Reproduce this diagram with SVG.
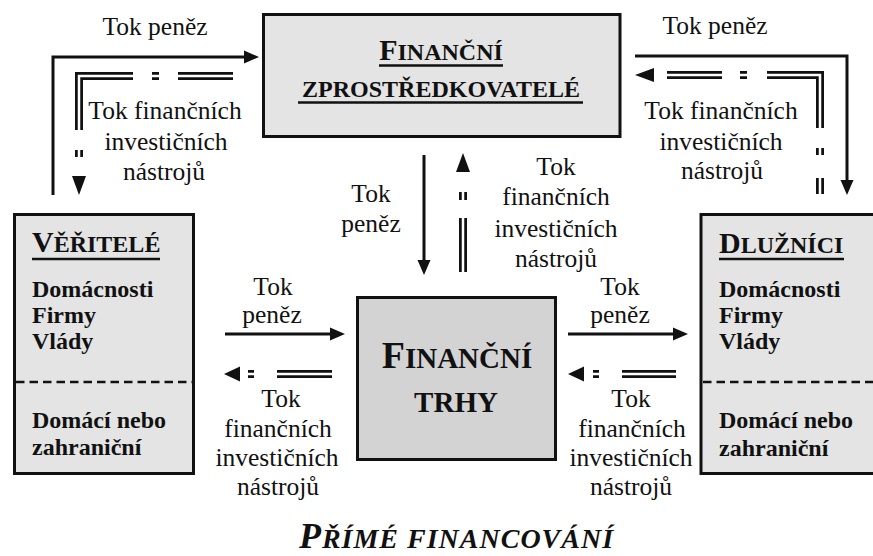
<svg xmlns="http://www.w3.org/2000/svg" xmlns:xlink="http://www.w3.org/1999/xlink" width="873" height="556" viewBox="0 0 873 556">
<style>
text{font-family:"Liberation Serif","Times New Roman",serif;fill:#111}
.lb{font-size:25.5px;text-anchor:middle}
.bx{font-size:24px;font-weight:bold}
.hd{font-weight:bold}
.box{fill:#e4e4e4;stroke:#111;stroke-width:3}
.boxc{fill:#d3d3d3;stroke:#111;stroke-width:3}
.dash{stroke:#111;stroke-width:2.5;stroke-dasharray:8.5 5;fill:none}
.ul{stroke:#111;stroke-width:2.5}
.sl{fill:none;stroke:#111;stroke-width:3}
.dbo{fill:none;stroke:#111;stroke-width:8;stroke-linejoin:miter}
.dbi{fill:none;stroke:#fff;stroke-width:2.5;stroke-linejoin:miter}
.ah{fill:#111}
</style>
<defs>
<path id="tri" d="M0,0 L-15,-6.5 L-15,6.5 Z"/>
<path id="tri2" d="M0,0 L-19,-7 L-19,7 Z"/>
<path id="tri3" d="M0,0 L-16,-7.5 L-16,7.5 Z"/>
</defs>

<g id="node-zprostredkovatele">
<rect class="box" x="263.5" y="14.5" width="356.5" height="122"/>
<text class="hd" x="441" y="60" text-anchor="middle"><tspan font-size="30">F</tspan><tspan font-size="24">INANČNÍ</tspan></text>
<line class="ul" x1="379" y1="65.5" x2="503" y2="65.5"/>
<text class="hd" x="441" y="97" text-anchor="middle" font-size="24">ZPROSTŘEDKOVATELÉ</text>
<line class="ul" x1="298" y1="102.5" x2="583" y2="102.5"/>
</g>

<g id="node-veritele">
<rect class="box" x="14.5" y="214.5" width="179" height="259"/>
<line class="dash" x1="16" y1="382" x2="192" y2="382"/>
<text class="hd" x="32" y="252"><tspan font-size="30">V</tspan><tspan font-size="24">ĚŘITELÉ</tspan></text>
<line class="ul" x1="32" y1="259" x2="160" y2="259"/>
<text class="bx" x="32" y="297">Domácnosti</text>
<text class="bx" x="32" y="323">Firmy</text>
<text class="bx" x="32" y="349">Vlády</text>
<text class="bx" x="32" y="428">Domácí nebo</text>
<text class="bx" x="32" y="455">zahraniční</text>
</g>

<g id="node-dluznici">
<rect class="box" x="701" y="214.5" width="179" height="259"/>
<line class="dash" x1="703" y1="382" x2="880" y2="382"/>
<text class="hd" x="719" y="253"><tspan font-size="30">D</tspan><tspan font-size="24">LUŽNÍCI</tspan></text>
<line class="ul" x1="719" y1="259" x2="844" y2="259"/>
<text class="bx" x="719" y="297">Domácnosti</text>
<text class="bx" x="719" y="323">Firmy</text>
<text class="bx" x="719" y="349">Vlády</text>
<text class="bx" x="719" y="428">Domácí nebo</text>
<text class="bx" x="719" y="456">zahraniční</text>
</g>

<g id="node-trhy">
<rect class="boxc" x="357.5" y="297.5" width="198" height="162"/>
<text class="hd" x="457" y="368" text-anchor="middle"><tspan font-size="38">F</tspan><tspan font-size="29">INANČNÍ</tspan></text>
<text class="hd" x="456" y="412" text-anchor="middle" font-size="29">TRHY</text>
</g>

<g id="connectors">
<path class="sl" d="M53,195 V57 H245"/>
<use xlink:href="#tri" class="ah" transform="translate(259,57)"/>
<path class="sl" d="M635,56 H847 V181"/>
<use xlink:href="#tri" class="ah" transform="translate(847,195) rotate(90)"/>
<path class="sl" d="M424,155 V261"/>
<use xlink:href="#tri" class="ah" transform="translate(424,275) rotate(90)"/>
<path class="sl" d="M225,334 H331"/>
<use xlink:href="#tri" class="ah" transform="translate(345,334)"/>
<path class="sl" d="M568,334 H674"/>
<use xlink:href="#tri" class="ah" transform="translate(688,334)"/>

<path class="dbo" d="M233,76 H178 M159,76 H152 M133,76 H79 V130 M79,150 V157"/>
<path class="dbi" d="M233,76 H178 M159,76 H152 M133,76 H79 V130 M79,150 V157"/>
<use xlink:href="#tri2" class="ah" transform="translate(79,195) rotate(90)"/>

<path class="dbo" d="M667,75 H722 M740,75 H747 M767,75 H820 V128 M820,148 V155 M820,178 V194"/>
<path class="dbi" d="M667,75 H722 M740,75 H747 M767,75 H820 V128 M820,148 V155 M820,178 V194"/>
<use xlink:href="#tri2" class="ah" transform="translate(635,75) rotate(180)"/>

<path class="dbo" d="M463,192 V200 M463,218 V272"/>
<path class="dbi" d="M463,192 V200 M463,218 V272"/>
<use xlink:href="#tri2" class="ah" transform="translate(463,153) rotate(-90)"/>

<path class="dbo" d="M248,374 H254 M277,374 H332"/>
<path class="dbi" d="M248,374 H254 M277,374 H332"/>
<use xlink:href="#tri3" class="ah" transform="translate(224,374) rotate(180)"/>

<path class="dbo" d="M593,374 H599 M622,374 H676"/>
<path class="dbi" d="M593,374 H599 M622,374 H676"/>
<use xlink:href="#tri3" class="ah" transform="translate(568,374) rotate(180)"/>
</g>

<g id="labels">
<text class="lb" x="155" y="35">Tok peněz</text>
<text class="lb" x="715" y="34">Tok peněz</text>
<text class="lb" x="165" y="119">Tok finančních</text>
<text class="lb" x="166" y="150">investičních</text>
<text class="lb" x="164" y="180">nástrojů</text>
<text class="lb" x="721" y="119">Tok finančních</text>
<text class="lb" x="721" y="150">investičních</text>
<text class="lb" x="722" y="179">nástrojů</text>
<text class="lb" x="371" y="202">Tok</text>
<text class="lb" x="371" y="232">peněz</text>
<text class="lb" x="556" y="175">Tok</text>
<text class="lb" x="556" y="205">finančních</text>
<text class="lb" x="556" y="237">investičních</text>
<text class="lb" x="556" y="267">nástrojů</text>
<text class="lb" x="273" y="295">Tok</text>
<text class="lb" x="272" y="323">peněz</text>
<text class="lb" x="620" y="295">Tok</text>
<text class="lb" x="620" y="323">peněz</text>
<text class="lb" x="281" y="407">Tok</text>
<text class="lb" x="278" y="437">finančních</text>
<text class="lb" x="277" y="466">investičních</text>
<text class="lb" x="278" y="495">nástrojů</text>
<text class="lb" x="631" y="407">Tok</text>
<text class="lb" x="632" y="437">finančních</text>
<text class="lb" x="631" y="466">investičních</text>
<text class="lb" x="631" y="495">nástrojů</text>
</g>

<g id="title">
<text x="456.5" y="548" text-anchor="middle" font-weight="bold" font-style="italic" letter-spacing="1"><tspan font-size="36">P</tspan><tspan font-size="28">ŘÍMÉ FINANCOVÁNÍ</tspan></text>
</g>
</svg>
